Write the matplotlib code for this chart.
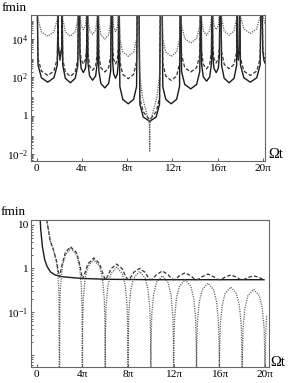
import numpy as np
import matplotlib
matplotlib.use("Agg")
import matplotlib.pyplot as plt
from matplotlib.ticker import LogLocator, FixedLocator, NullFormatter, NullLocator

plt.rcParams['font.family'] = ['Liberation Serif', 'DejaVu Serif']
plt.rcParams['mathtext.fontset'] = 'stix'

# x values are in units of pi, y values are log10(fmin)

# top panel: poles shared by the three curves (value 6 = far above the frame)
top_t = [0.05, 0.12, 0.42, 0.98, 1.53, 1.83, 1.90,
         1.92, 2.07, 2.23,
         2.25, 2.31, 2.54, 2.98, 3.41, 3.64, 3.70,
         3.80, 3.83, 3.93, 4.13, 4.32, 4.42, 4.45,
         4.50, 4.54, 4.68, 4.95, 5.22, 5.36, 5.40,
         5.45, 5.50, 5.68, 6.03, 6.37, 6.55, 6.60,
         6.70, 6.72, 6.81, 6.98, 7.14, 7.23, 7.25,
         7.30, 7.36, 7.62, 8.10, 8.58, 8.84, 8.90,
         9.05, 9.13, 9.43, 10.00, 10.57, 10.87, 10.95,
         11.10, 11.16, 11.42, 11.90, 12.38, 12.64, 12.70,
         12.75, 12.82, 13.10, 13.63, 14.15, 14.43, 14.50,
         14.55, 14.59, 14.74, 15.03, 15.31, 15.46, 15.50,
         15.55, 15.58, 15.68, 15.88, 16.07, 16.17, 16.20,
         16.30, 16.36, 16.59, 17.03, 17.46, 17.69, 17.75,
         17.77, 17.85, 17.93,
         17.95, 18.03, 18.33, 18.90, 19.47, 19.77, 19.85,
         19.95, 20.00, 20.10, 20.20]

top_solid = [6, 2.65, 1.98, 1.75, 1.98, 2.65, 6,
             3.6, 2.9, 3.6,
             6, 2.62, 1.95, 1.72, 1.95, 2.62, 6,
             6, 3.15, 2.48, 2.25, 2.48, 3.15, 6,
             6, 2.75, 2.08, 1.85, 2.08, 2.75, 6,
             6, 2.35, 1.68, 1.45, 1.68, 2.35, 6,
             6, 2.85, 2.18, 1.95, 2.18, 2.85, 6,
             6, 1.52, 0.85, 0.62, 0.85, 1.52, 6,
             6, 0.60, -0.07, -0.30, -0.07, 0.60, 6,
             6, 1.52, 0.85, 0.62, 0.85, 1.52, 6,
             6, 2.30, 1.63, 1.40, 1.63, 2.30, 6,
             6, 2.70, 2.03, 1.80, 2.03, 2.70, 6,
             6, 3.15, 2.48, 2.25, 2.48, 3.15, 6,
             6, 2.62, 1.95, 1.72, 1.95, 2.62, 6,
             3.6, 2.9, 3.6,
             6, 2.65, 1.98, 1.75, 1.98, 2.65, 6,
             6, 3.40, 2.90, 2.75]

top_dash = [6, 3.00, 2.33, 2.10, 2.33, 3.00, 6,
            3.7, 3.0, 3.7,
            6, 2.95, 2.28, 2.05, 2.28, 2.95, 6,
            6, 3.60, 2.93, 2.70, 2.93, 3.60, 6,
            6, 3.27, 2.60, 2.37, 2.60, 3.27, 6,
            6, 3.18, 2.51, 2.28, 2.51, 3.18, 6,
            6, 3.60, 2.93, 2.70, 2.93, 3.60, 6,
            6, 2.83, 2.16, 1.93, 2.16, 2.83, 6,
            6, 0.90, 0.20, -0.22, 0.20, 0.90, 6,
            6, 2.74, 2.07, 1.84, 2.07, 2.74, 6,
            6, 3.18, 2.51, 2.28, 2.51, 3.18, 6,
            6, 3.35, 2.68, 2.45, 2.68, 3.35, 6,
            6, 3.65, 2.98, 2.75, 2.98, 3.65, 6,
            6, 3.35, 2.68, 2.45, 2.68, 3.35, 6,
            3.7, 3.0, 3.7,
            6, 3.00, 2.33, 2.10, 2.33, 3.00, 6,
            6, 3.60, 3.10, 2.95]

top_dot_t = [0.05, 0.12, 0.42, 0.98, 1.53, 1.83, 1.90,
             2.25, 2.31, 2.54, 2.98, 3.41, 3.64, 3.70,
             3.80, 3.83, 3.93, 4.13, 4.32, 4.42, 4.45,
             4.50, 4.54, 4.68, 4.95, 5.22, 5.36, 5.40,
             5.45, 5.50, 5.68, 6.03, 6.37, 6.55, 6.60,
             6.70, 6.72, 6.81, 6.98, 7.14, 7.23, 7.25,
             7.30, 7.36, 7.62, 8.10, 8.58, 8.84, 8.90,
             9.02, 9.10, 9.35, 9.65, 9.88, 9.97, 10.00, 10.03, 10.12, 10.35, 10.65, 10.90, 10.98,
             11.10, 11.16, 11.42, 11.90, 12.38, 12.64, 12.70,
             12.75, 12.82, 13.10, 13.63, 14.15, 14.43, 14.50,
             14.55, 14.59, 14.74, 15.03, 15.31, 15.46, 15.50,
             15.55, 15.58, 15.68, 15.88, 16.07, 16.17, 16.20,
             16.30, 16.36, 16.59, 17.03, 17.46, 17.69, 17.75,
             17.95, 18.03, 18.33, 18.90, 19.47, 19.77, 19.85,
             19.95, 20.00, 20.10, 20.20]
top_dot = [6, 5.05, 4.38, 4.15, 4.38, 5.05, 6,
           6, 5.05, 4.38, 4.15, 4.38, 5.05, 6,
           6, 5.40, 4.73, 4.50, 4.73, 5.40, 6,
           6, 5.15, 4.48, 4.25, 4.48, 5.15, 6,
           6, 4.90, 4.23, 4.00, 4.23, 4.90, 6,
           6, 5.30, 4.63, 4.40, 4.63, 5.30, 6,
           6, 4.00, 3.33, 3.10, 3.33, 4.00, 6,
           6, 2.30, 1.00, 0.30, -0.20, -0.45, -1.85, -0.45, -0.20, 0.30, 1.00, 2.30, 6,
           6, 4.00, 3.33, 3.10, 3.33, 4.00, 6,
           6, 4.70, 4.03, 3.80, 4.03, 4.70, 6,
           6, 5.10, 4.43, 4.20, 4.43, 5.10, 6,
           6, 5.40, 4.73, 4.50, 4.73, 5.40, 6,
           6, 5.10, 4.43, 4.20, 4.43, 5.10, 6,
           6, 5.20, 4.53, 4.30, 4.53, 5.20, 6,
           6, 5.50, 5.00, 4.80]

# bottom panel
bot_solid_t = [0.25, 0.35, 0.5, 0.7, 0.9, 1.2, 1.6, 2.2, 3.0, 4.0, 6.0, 10.0, 15.0, 19.9]
bot_solid = [1.4, 0.9, 0.5, 0.2, 0.05, -0.08, -0.15, -0.19, -0.21, -0.23, -0.25, -0.26, -0.26, -0.26]

bot_dash_t = [0.88, 1.17, 1.46, 1.75, 1.9, 2.0,
              2.2, 2.5, 2.95, 3.5, 3.8, 4.0,
              4.2, 4.5, 5.0, 5.5, 5.8, 6.0,
              6.2, 6.5, 7.0, 7.5, 7.8, 8.0,
              8.2, 8.5, 9.0, 9.5, 9.8, 10.0,
              10.2, 10.5, 11.0, 11.5, 11.8, 12.0,
              12.2, 12.5, 13.0, 13.5, 13.8, 14.0,
              14.2, 14.5, 15.0, 15.5, 15.8, 16.0,
              16.2, 16.5, 17.0, 17.5, 17.8, 18.0,
              18.2, 18.5, 19.0, 19.5, 19.8, 20.0]
bot_dash = [1.12, 0.65, 0.43, 0.16, -0.07, -0.2,
            0.06, 0.36, 0.5, 0.36, 0.06, -0.24,
            -0.12, 0.11, 0.24, 0.11, -0.12, -0.26,
            -0.19, -0.01, 0.1, -0.01, -0.19, -0.26,
            -0.22, -0.09, 0.0, -0.09, -0.22, -0.26,
            -0.23, -0.14, -0.06, -0.14, -0.23, -0.26,
            -0.24, -0.17, -0.1, -0.17, -0.24, -0.26,
            -0.245, -0.19, -0.13, -0.19, -0.245, -0.26,
            -0.25, -0.2, -0.15, -0.2, -0.25, -0.26,
            -0.25, -0.21, -0.17, -0.21, -0.25, -0.26]

bot_dot_t = [0.88, 1.17, 1.46, 1.7, 1.85, 1.95, 2.0,
             2.02, 2.08, 2.24, 2.5, 3.0, 3.5, 3.76, 3.92, 3.98, 4.0,
             4.02, 4.08, 4.24, 4.5, 5.0, 5.5, 5.76, 5.92, 5.98, 6.0,
             6.02, 6.08, 6.24, 6.5, 7.0, 7.5, 7.76, 7.92, 7.98, 8.0,
             8.02, 8.08, 8.24, 8.5, 9.0, 9.5, 9.76, 9.92, 9.98, 10.0,
             10.02, 10.08, 10.24, 10.5, 11.0, 11.5, 11.76, 11.92, 11.98, 12.0,
             12.02, 12.08, 12.24, 12.5, 13.0, 13.5, 13.76, 13.92, 13.98, 14.0,
             14.02, 14.08, 14.24, 14.5, 15.0, 15.5, 15.76, 15.92, 15.98, 16.0,
             16.02, 16.08, 16.24, 16.5, 17.0, 17.5, 17.76, 17.92, 17.98, 18.0,
             18.02, 18.08, 18.24, 18.5, 19.0, 19.5, 19.76, 19.92, 19.98, 20.0,
             20.02, 20.08, 20.15]
bot_dot = [1.12, 0.65, 0.43, 0.18, -0.1, -0.6, -5,
           -1.04, -0.44, 0.03, 0.31, 0.46, 0.31, 0.03, -0.44, -1.04, -5,
           -1.3, -0.7, -0.23, 0.05, 0.2, 0.05, -0.23, -0.7, -1.3, -5,
           -1.47, -0.87, -0.4, -0.12, 0.03, -0.12, -0.4, -0.87, -1.47, -5,
           -1.57, -0.97, -0.5, -0.22, -0.07, -0.22, -0.5, -0.97, -1.57, -5,
           -1.67, -1.07, -0.6, -0.32, -0.17, -0.32, -0.6, -1.07, -1.67, -5,
           -1.76, -1.16, -0.69, -0.41, -0.26, -0.41, -0.69, -1.16, -1.76, -5,
           -1.84, -1.24, -0.77, -0.49, -0.34, -0.49, -0.77, -1.24, -1.84, -5,
           -1.93, -1.33, -0.86, -0.58, -0.43, -0.58, -0.86, -1.33, -1.93, -5,
           -1.98, -1.38, -0.91, -0.63, -0.48, -0.63, -0.91, -1.38, -1.98, -5,
           -2.0, -1.4, -1.07]

xtick_pos = [0, 4, 8, 12, 16, 20]
xtick_lab = ['0', '4π', '8π', '12π', '16π', '20π']

fig = plt.figure(figsize=(2.91, 3.83), dpi=100)
ax1 = fig.add_axes([31/291, 1 - 161/383, 234/291, 146/383])
ax2 = fig.add_axes([31/291, 1 - 367/383, 238/291, 147/383])

solid_kw = dict(color='#1a1a1a', lw=1.0)
dash_kw = dict(color='#333333', lw=0.9, dashes=(3.0, 1.6))
dot_kw = dict(color='#555555', lw=0.9, dashes=(0.9, 1.0))

ax1.plot(top_t, 10**np.array(top_solid, dtype=float), **solid_kw)
ax1.plot(top_t, 10**np.array(top_dash, dtype=float), **dash_kw)
ax1.plot(top_dot_t, 10**np.array(top_dot, dtype=float), **dot_kw)

ax2.plot(bot_solid_t, 10**np.array(bot_solid, dtype=float), **solid_kw)
ax2.plot(bot_dash_t, 10**np.array(bot_dash, dtype=float), **dash_kw)
ax2.plot(bot_dot_t, 10**np.array(bot_dot, dtype=float), **dot_kw)

ax1.set_xlim(-0.5, 20.2)
ax1.set_ylim(10**-2.37, 10**5.26)
ax2.set_xlim(-0.5, 20.35)
ax2.set_ylim(10**-2.27, 10**1.115)

for ax in (ax1, ax2):
    ax.set_yscale('log')
    ax.set_xticks(xtick_pos)
    ax.set_xticklabels(xtick_lab)
    ax.xaxis.set_minor_locator(NullLocator())
    ax.yaxis.set_minor_locator(LogLocator(base=10, subs=np.arange(2, 10), numticks=50))
    ax.yaxis.set_minor_formatter(NullFormatter())
    ax.tick_params(which='both', direction='in', top=False, right=False,
                   labelsize=8.2, width=0.6, colors='#444444', labelcolor='black')
    ax.tick_params(which='major', length=2.5, pad=2)
    ax.tick_params(which='minor', length=1.5)
    for s in ax.spines.values():
        s.set_linewidth(0.8)
        s.set_color('#666666')

ax1.yaxis.set_major_locator(FixedLocator([1e-2, 1, 1e2, 1e4]))
ax1.set_yticklabels([r'$\mathregular{10^{-2}}$', '1', r'$\mathregular{10^{2}}$', r'$\mathregular{10^{4}}$'])
ax2.yaxis.set_major_locator(FixedLocator([1e-2, 1e-1, 1, 10]))
ax2.set_yticklabels(['', r'$\mathregular{10^{-1}}$', '1', '10'])

# axis names in the corners
fig.text(0.005, 1 - 8/383, 'fmin', fontsize=9.5, va='center', ha='left')
fig.text(0.003, 1 - 212/383, 'fmin', fontsize=9.5, va='center', ha='left')
fig.text(268/291, 1 - 154/383, 'Ωt', fontsize=10.5, va='center', ha='left')
fig.text(270/291, 1 - 363/383, 'Ωt', fontsize=10.5, va='center', ha='left')

fig.savefig('out.png', dpi=100)
